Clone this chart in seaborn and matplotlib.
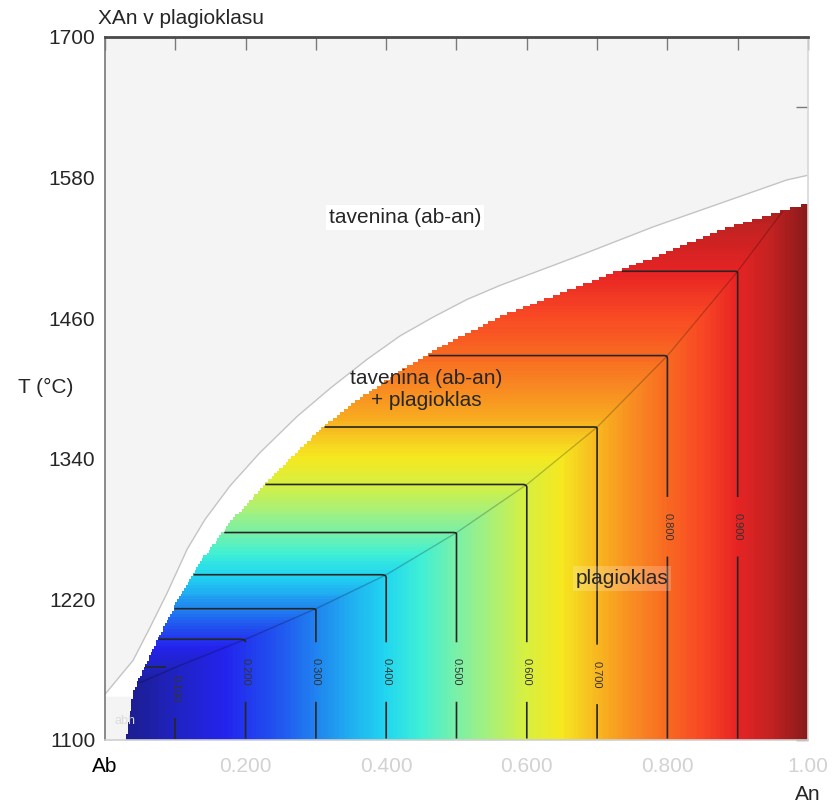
import numpy as np
import pandas as pd
import matplotlib
matplotlib.use("Agg")
import matplotlib.pyplot as plt
import seaborn as sns
from matplotlib.colors import LinearSegmentedColormap

# ---------------- data ----------------
# liquidus (outer boundary of the melt field)
liq_x = [0.000, 0.040, 0.064, 0.088, 0.117, 0.142, 0.178, 0.220, 0.273, 0.320,
         0.373, 0.420, 0.467, 0.515, 0.562, 0.633, 0.686, 0.780, 0.875, 0.970, 1.000]
liq_t = [1139, 1168, 1196, 1225, 1263, 1288, 1317, 1345, 1376, 1400,
         1425, 1445, 1461, 1476, 1488, 1504, 1516, 1538, 1558, 1578, 1582]
# upper edge of the computed (coloured) plagioclase field
edge_x = [0.030, 0.040, 0.064, 0.085, 0.111, 0.131, 0.178, 0.246, 0.310, 0.349,
          0.420, 0.491, 0.562, 0.633, 0.686, 0.780, 0.875, 0.964, 1.000]
edge_t = [1100, 1141, 1172, 1198, 1228, 1248, 1286, 1330, 1367, 1386,
          1415, 1440, 1461, 1478, 1490, 1512, 1535, 1552, 1558]
# solidus: plagioclase composition XAn vs temperature
sol_x = [0.00, 0.05, 0.10, 0.20, 0.30, 0.40, 0.50, 0.60, 0.70, 0.80, 0.90, 1.00]
sol_t = [1134, 1149, 1162, 1186, 1212, 1241, 1277, 1318, 1367, 1428, 1500, 1580]
# isopleth levels and where their labels sit
iso_levels = [0.1, 0.2, 0.3, 0.4, 0.5, 0.6, 0.7, 0.8, 0.9]
iso_label_t = [1144, 1158, 1158, 1158, 1158, 1158, 1156, 1282, 1282]
# axis ticks
x_ticks = [0.0, 0.2, 0.4, 0.6, 0.8, 1.0]
x_tick_labels = ["Ab", "0.200", "0.400", "0.600", "0.800", "1.00"]
y_ticks = [1100, 1220, 1340, 1460, 1580, 1700]

# colour scale for XAn
cmap_pos = [0.00, 0.05, 0.10, 0.17, 0.25, 0.30, 0.35, 0.40, 0.45, 0.50,
            0.55, 0.60, 0.65, 0.70, 0.75, 0.80, 0.85, 0.90, 0.95, 1.00]
cmap_col = ["#1a1c7c", "#1d1f9c", "#2023c2", "#2424ee", "#2158f0", "#2084f0",
            "#20b0f2", "#22d6f0", "#40f0d6", "#7af0a8", "#aaf078", "#d8f040",
            "#f6e820", "#f8b820", "#f88e22", "#f86a22", "#f84824", "#e82424",
            "#c22222", "#8a1a1a"]

# ---------------- figure ----------------
sns.set_style("white")
plt.rcParams["font.family"] = ["Liberation Sans", "DejaVu Sans"]

fig = plt.figure(figsize=(8.36, 8.06), dpi=100)
ax = fig.add_axes([0.1256, 0.0819, 0.8409, 0.8722])
ax.set_facecolor("#f4f4f4")

cmap = LinearSegmentedColormap.from_list("xan", list(zip(cmap_pos, cmap_col)))

# grid
nx, ny = 400, 240
xc = (np.arange(nx) + 0.5) / nx
tc = 1100 + (np.arange(ny) + 0.5) * (600 / ny)
X, T = np.meshgrid(xc, tc)
solT = np.interp(X, sol_x, sol_t)
Z = np.where(T > solT, np.interp(T, sol_t, sol_x), X)
edge_on_grid = np.interp(X, edge_x, edge_t)
mask = (T > edge_on_grid) | (X < edge_x[0])
Zm = np.ma.array(Z, mask=mask)

# white band between liquidus and computed field
band_x = list(liq_x) + [1.0] + list(edge_x[::-1][:-1]) + [0.0]
band_t = list(liq_t) + [edge_t[-1] - 4] + [t - 4 for t in edge_t[::-1][:-1]] + [1137]
ax.fill(band_x, band_t, color="white", zorder=1, lw=0)

ax.imshow(Zm, cmap=cmap, vmin=0, vmax=1, origin="lower", aspect="auto",
          extent=[0, 1, 1100, 1700], interpolation="nearest", zorder=2)

cs = ax.contour(X, T, Zm, levels=iso_levels, colors="#262626",
                linewidths=1.2, zorder=3)
ax.clabel(cs, iso_levels, inline=True, inline_spacing=16, fontsize=8,
          fmt="%.3f", colors="#333333",
          manual=list(zip(iso_levels, iso_label_t)))

# liquidus outline and solidus line
sns.lineplot(x=liq_x, y=liq_t, sort=False, ax=ax, color="#c4c4c4", lw=1.0,
             zorder=4, legend=False)
s_x = np.linspace(0.05, 0.964, 200)
s_t = np.interp(s_x, sol_x, sol_t)
sns.lineplot(x=s_x, y=s_t, sort=False, ax=ax, color="black", alpha=0.22,
             lw=1.0, zorder=3, legend=False)

# field labels
ax.text(0.427, 1546, "tavenina (ab-an)", fontsize=15, ha="center", va="center",
        zorder=6, bbox=dict(facecolor="white", edgecolor="none", pad=2))
ax.text(0.457, 1399, "tavenina (ab-an)\n+ plagioklas", fontsize=15,
        ha="center", va="center", zorder=6, linespacing=1.2)
ax.text(0.735, 1238, "plagioklas", fontsize=15, ha="center", va="center",
        zorder=6, bbox=dict(facecolor="white", alpha=0.2, edgecolor="none", pad=2))
ax.text(0.028, 1116, "abh", fontsize=9, color="#dcdcdc", ha="center",
        va="center", zorder=6)

# axes
ax.set_xlim(0, 1)
ax.set_ylim(1100, 1700)
ax.set_xticks(x_ticks)
ax.set_xticklabels(x_tick_labels)
ax.set_xticks(np.arange(0.1, 1.0, 0.2), minor=True)
ax.set_yticks(y_ticks)
ax.set_yticks(np.arange(1160, 1700, 120), minor=True)
for lab in ax.get_xticklabels():
    lab.set_color("black" if lab.get_text() == "Ab" else "#d2d2d2")
ax.tick_params(axis="both", which="both", direction="in", top=True,
               right=True, color="#7a7a7a", labelsize=15)
ax.tick_params(axis="both", which="major", length=9, width=1)
ax.tick_params(axis="both", which="minor", length=9, width=1)
ax.tick_params(axis="x", pad=12)
ax.tick_params(axis="y", pad=7)
for side, col, lw in [("top", "#4a4a4a", 2.0), ("left", "#777777", 1.2),
                      ("bottom", "#d0d0d0", 1.2), ("right", "#d8d8d8", 1.2)]:
    ax.spines[side].set_color(col)
    ax.spines[side].set_linewidth(lw)
    ax.spines[side].set_zorder(7)

ax.text(-0.085, 0.502, "T (°C)", transform=ax.transAxes, fontsize=15,
        ha="center", va="center")
ax.text(-0.01, 1.027, "XAn v plagioklasu", transform=ax.transAxes,
        fontsize=15, ha="left", va="center")
ax.text(1.0, -0.078, "An", transform=ax.transAxes, fontsize=15,
        ha="center", va="center")

fig.savefig("out.png", dpi=100)
